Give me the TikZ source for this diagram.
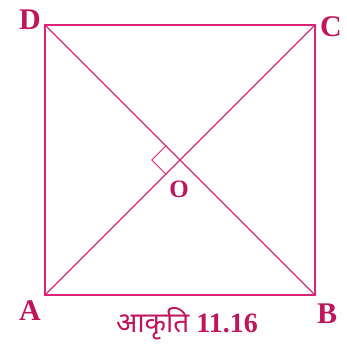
\documentclass[tikz,border=0pt]{standalone}
\usepackage{fontspec}
\usetikzlibrary{calc}
\setmainfont{Liberation Serif}
\newfontfamily\devfont[Script=Devanagari]{Noto Sans}
\definecolor{figpink}{RGB}{220,36,118}
\definecolor{labpink}{RGB}{192,20,92}
\tikzset{
	side/.style={color=figpink, line width=1.8pt, line cap=round},
	diag/.style={color=figpink, line width=1.3pt},
	vlabel/.style={inner sep=0.75pt, text=labpink, font=\fontsize{30}{30}\selectfont\bfseries}
}

\begin{document}
\begin{tikzpicture}[x=1pt,y=1pt,yscale=-1,xscale=1]
	\useasboundingbox (0,0) rectangle (346,350);

	%%SQUARE---------------------------------------------
	\coordinate (A) at (45,295);
	\coordinate (B) at (315,295);
	\coordinate (C) at (315,25);
	\coordinate (D) at (45,25);
	\coordinate (O) at (180,160);

	\draw [side] (A) -- (B) -- (C) -- (D) -- cycle;
	%diagonals
	\draw [diag] (A) -- (C);
	\draw [diag] (B) -- (D);

	%right angle mark
	\draw [diag, line width=1pt] ($(O)!20pt!(D)$) -- ($(O)!20pt!(D)+(O)!20pt!(A)-(O)$) -- ($(O)!20pt!(A)$);

	% Text Node
	\node [vlabel] (lD) at (30,20) {D};
	% Text Node
	\node [vlabel] (lC) at (331,27) {C};
	% Text Node
	\node [vlabel] (lA) at (30,311) {A};
	% Text Node
	\node [vlabel] (lB) at (327,314) {B};
	% Text Node
	\node [vlabel, font=\fontsize{25}{25}\selectfont\bfseries] (lO) at (179,189) {O};
	% Text Node
	\node [inner sep=0.75pt, text=labpink, font=\fontsize{28}{28}\selectfont\bfseries] (cap) at (187,324) {{\devfont आकृति} 11.16};
\end{tikzpicture}
\end{document}
